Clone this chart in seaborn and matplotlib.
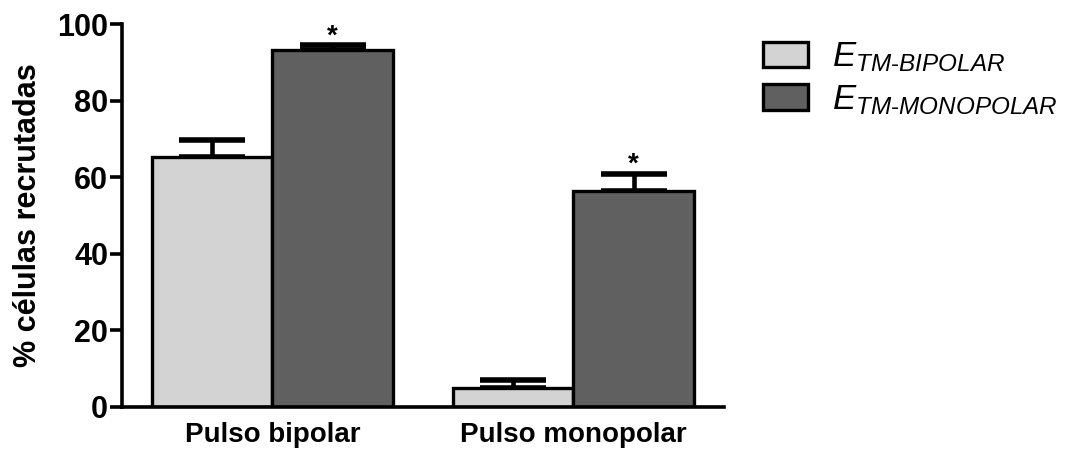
import pandas as pd
import matplotlib.pyplot as plt
import seaborn as sns

# dati
categorie = ['Pulso bipolar', 'Pulso monopolar']
gruppi = ['bipolar', 'monopolar']
media_bipolar = [65.4, 4.9]
media_monopolar = [93.3, 56.4]
err_bipolar = [4.4, 2.2]
err_monopolar = [1.2, 4.5]
etichette = [r'$\mathit{E}_{\mathit{TM\text{-}BIPOLAR}}$',
             r'$\mathit{E}_{\mathit{TM\text{-}MONOPOLAR}}$']

df = pd.DataFrame({
    'categoria': categorie * 2,
    'gruppo': [gruppi[0]] * 2 + [gruppi[1]] * 2,
    'valore': media_bipolar + media_monopolar,
})
errori = err_bipolar + err_monopolar

sns.set_style('ticks')
plt.rcParams['font.family'] = ['Liberation Sans', 'DejaVu Sans']
plt.rcParams['mathtext.fontset'] = 'custom'
plt.rcParams['mathtext.it'] = 'Liberation Sans:italic'
plt.rcParams['mathtext.rm'] = 'Liberation Sans'
plt.rcParams['text.color'] = 'black'
plt.rcParams['axes.labelcolor'] = 'black'
plt.rcParams['xtick.color'] = 'black'
plt.rcParams['ytick.color'] = 'black'
plt.rcParams['axes.edgecolor'] = 'black'

fig = plt.figure(figsize=(10.68, 4.5), dpi=100)
ax = fig.add_axes([0.1142, 0.0956, 0.5637, 0.851])

sns.barplot(data=df, x='categoria', y='valore', hue='gruppo',
            palette=['#d3d3d3', '#606060'], errorbar=None, width=0.8,
            edgecolor='black', linewidth=2.4, ax=ax, zorder=2)

# barre di errore solo verso l'alto
barre = [p for p in ax.patches if p.get_height() > 0][:4]
for i, p in enumerate(barre):
    xc = p.get_x() + p.get_width() / 2
    y = p.get_height()
    ax.errorbar(xc, y, yerr=[[0], [errori[i]]], fmt='none', ecolor='black',
                elinewidth=3.3, capsize=23.5, capthick=4, zorder=1)
    if i >= 2:
        ax.annotate('*', (xc, y + errori[i]), xytext=(0, -3),
                    textcoords='offset points', ha='center', va='bottom',
                    fontsize=20, fontweight='bold')

ax.set_xlim(-0.5, 1.5)
ax.set_ylim(0, 100)
ax.set_yticks([0, 20, 40, 60, 80, 100])
ax.set_xlabel('')
ax.set_ylabel('% células recrutadas', fontsize=22, fontweight='bold', labelpad=10)
for s in ['top', 'right']:
    ax.spines[s].set_visible(False)
for s in ['left', 'bottom']:
    ax.spines[s].set_linewidth(2.6)
ax.tick_params(axis='y', length=9, width=2.6, labelsize=22, pad=1)
ax.tick_params(axis='x', length=0, labelsize=20, pad=11)
for lab in ax.get_xticklabels() + ax.get_yticklabels():
    lab.set_fontweight('bold')

handles, _ = ax.get_legend_handles_labels()
ax.legend(handles, etichette, loc='upper left', bbox_to_anchor=(0.698, 0.948),
          bbox_transform=fig.transFigure, frameon=False, fontsize=25,
          handlelength=1.3, handleheight=0.75, handletextpad=0.7,
          labelspacing=0.25, borderpad=0)

plt.savefig('out.png', dpi=100)
